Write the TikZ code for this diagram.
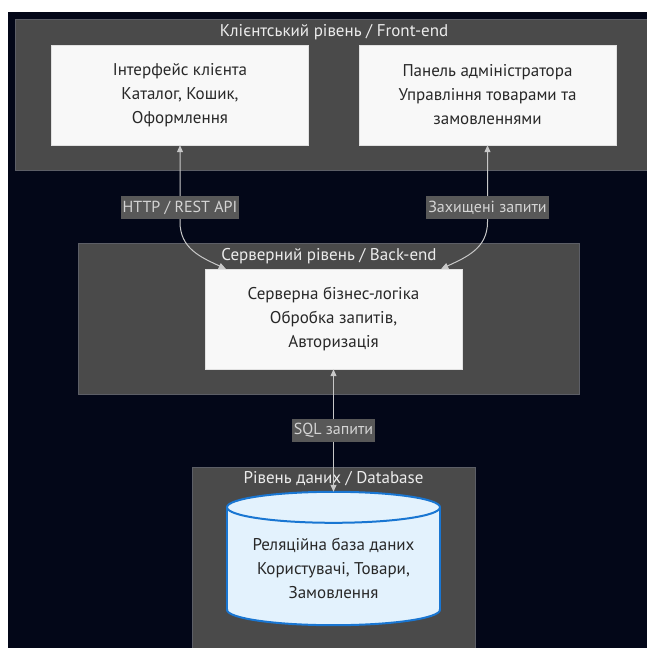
\documentclass[tikz,border=0pt]{standalone}
\usepackage{fontspec}
\setmainfont{PT Sans}
\usetikzlibrary{arrows.meta,positioning}

\definecolor{bgdark}{RGB}{3,7,24}
\definecolor{clusterfill}{RGB}{74,74,74}
\definecolor{clusterline}{RGB}{92,94,102}
\definecolor{titlegray}{RGB}{236,236,236}
\definecolor{boxfill}{RGB}{248,248,248}
\definecolor{boxline}{RGB}{225,225,225}
\definecolor{boxtext}{RGB}{40,40,40}
\definecolor{lblfill}{RGB}{88,88,88}
\definecolor{lbltext}{RGB}{212,212,212}
\definecolor{linkgray}{RGB}{200,200,200}
\definecolor{dbfill}{RGB}{227,242,253}
\definecolor{dbline}{RGB}{25,118,210}

\begin{document}
\begin{tikzpicture}[x=1pt, y=-1pt,
  cluster/.style={draw=clusterline, fill=clusterfill, line width=1pt},
  ctitle/.style={text=titlegray, font=\fontsize{17}{20}\selectfont},
  box/.style={draw=boxline, fill=boxfill, minimum width=257, minimum height=100,
              align=center, text=boxtext, font=\fontsize{17}{24}\selectfont},
  dbbody/.style={minimum width=213, minimum height=133},
  dbtext/.style={align=center, text=boxtext, font=\fontsize{17}{24}\selectfont},
  lbl/.style={fill=lblfill, text=lbltext, inner sep=2pt, minimum height=23,
              font=\fontsize{16}{20}\selectfont},
  link/.style={draw=linkgray, line width=1pt, <->, >={Triangle[length=7pt,width=6pt]}}
]
\useasboundingbox (0,0) rectangle (647,648);
\clip (0,0) rectangle (647,648);
\fill[white] (0,0) rectangle (647,648);
\fill[bgdark] (8,12) rectangle (660,660);

% Layers
\node[cluster, minimum width=638, minimum height=151] (front) at (334,94.5) {};
\node[ctitle] at (334,32) {Клієнтський рівень / Front-end};

\node[cluster, minimum width=501, minimum height=151] (back) at (328.5,318.5) {};
\node[ctitle] at (329,256) {Серверний рівень / Back-end};

\node[cluster, minimum width=283, minimum height=193] (data) at (333.5,563.5) {};
\node[ctitle] at (333.5,479) {Рівень даних / Database};

% Components
\node[box] (client) at (180,95) {Інтерфейс клієнта\\Каталог, Кошик,\\Оформлення};
\node[box] (admin) at (487.5,95) {Панель адміністратора\\Управління товарами та\\замовленнями};
\node[box] (server) at (333.5,319) {Серверна бізнес-логіка\\Обробка запитів,\\Авторизація};

% Database cylinder
\node[dbbody] (db) at (333.5,558.5) {};
\fill[dbfill] ([yshift=-15.5]db.north west) rectangle ([yshift=15.5]db.south east);
\fill[dbfill] ([yshift=15.5]db.south) ellipse (106.5 and 15.5);
\draw[dbline, line width=2pt] ([yshift=-15.5]db.north west) -- ([yshift=15.5]db.south west)
  ([yshift=-15.5]db.north east) -- ([yshift=15.5]db.south east);
\begin{scope}
  \clip ([xshift=-5,yshift=15.5]db.south west) rectangle ([xshift=5,yshift=-10]db.south east);
  \draw[dbline, line width=2pt] ([yshift=15.5]db.south) ellipse (106.5 and 15.5);
\end{scope}
\filldraw[fill=dbfill, draw=dbline, line width=2pt] ([yshift=-15.5]db.north) ellipse (106.5 and 15.5);
\node[dbtext] (dbt) at ([yshift=-9.5]db.center) {Реляційна база даних\\Користувачі, Товари,\\Замовлення};

% Connections
\draw[link] (client) -- (180,222) .. controls (180,248) and (200,257) .. ([xshift=21]server.north west);
\draw[link] (admin) -- (487.5,222) .. controls (487.5,248) and (467,257) .. ([xshift=-21]server.north east);
\draw[link] (server) -- (db.north);

% Edge labels
\node[lbl] (httplbl) at (180,207.5) {HTTP / REST API};
\node[lbl] (seclbl) at (487.5,207.5) {Захищені запити};
\node[lbl] (sqllbl) at (333.5,430.5) {SQL запити};

\end{tikzpicture}
\end{document}
